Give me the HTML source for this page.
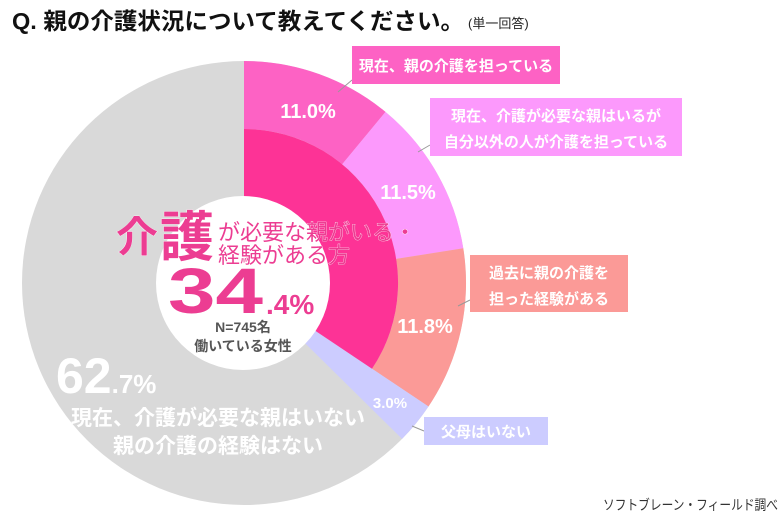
<!DOCTYPE html>
<html><head><meta charset="utf-8"><style>
html,body{margin:0;padding:0;background:#fff;}
body{width:780px;height:516px;overflow:hidden;position:relative;font-family:"Liberation Sans","Noto Sans CJK JP",sans-serif;}
</style></head><body>
<svg width="780" height="516" viewBox="0 0 780 516" xmlns="http://www.w3.org/2000/svg" style="position:absolute;left:0;top:0" font-family="Liberation Sans, Noto Sans CJK JP, sans-serif">
<text x="12" y="29" font-size="23" font-weight="bold" fill="#111" textLength="452" lengthAdjust="spacingAndGlyphs">Q.  親の介護状況について教えてください。</text>
<text x="468" y="28" font-size="13" fill="#222">(単一回答)</text>

<circle cx="244" cy="283" r="222" fill="#d9d9d9"/>
<path d="M244,61 A222,222 0 0 1 385.5,111.9 L342.2,164.3 A154,154 0 0 0 244,129 Z" fill="#fd62c4"/>
<path d="M385.5,111.9 A222,222 0 0 1 463.3,248.3 L396.1,258.9 A154,154 0 0 0 342.2,164.3 Z" fill="#fc99fc"/>
<path d="M463.3,248.3 A222,222 0 0 1 428.5,406.5 L372.0,368.7 A154,154 0 0 0 396.1,258.9 Z" fill="#fb9a97"/>
<path d="M244,283 L428.5,406.5 A222,222 0 0 1 402.1,438.9 Z" fill="#ccccff"/>
<path d="M244,283 L244,129 A154,154 0 0 1 372.0,368.7 Z" fill="#fd3396"/>
<circle cx="243" cy="283" r="87" fill="#fff"/>

<g stroke="#999" stroke-width="1" fill="none">
<line x1="352" y1="80" x2="338" y2="92"/>
<line x1="430" y1="145" x2="418" y2="152"/>
<line x1="470" y1="300" x2="458" y2="306"/>
<line x1="424" y1="431" x2="412" y2="426"/>
</g>

<rect x="352" y="46" width="208" height="38" fill="#fd62c4"/>
<text x="456" y="71" font-size="15" font-weight="bold" fill="#fff" text-anchor="middle">現在、親の介護を担っている</text>
<rect x="430" y="98" width="252" height="58" fill="#fc99fc"/>
<text x="556" y="121" font-size="15" font-weight="bold" fill="#fff" text-anchor="middle">現在、介護が必要な親はいるが</text>
<text x="556" y="147" font-size="15" font-weight="bold" fill="#fff" text-anchor="middle">自分以外の人が介護を担っている</text>
<rect x="470" y="255" width="158" height="57" fill="#fb9a97"/>
<text x="549" y="278" font-size="15" font-weight="bold" fill="#fff" text-anchor="middle">過去に親の介護を</text>
<text x="549" y="304" font-size="15" font-weight="bold" fill="#fff" text-anchor="middle">担った経験がある</text>
<rect x="424" y="417" width="124" height="28" fill="#ccccff"/>
<text x="486" y="437" font-size="15" font-weight="bold" fill="#fff" text-anchor="middle">父母はいない</text>

<g font-weight="bold" fill="#fff" text-anchor="middle">
<text x="308" y="118" font-size="20">11.0%</text>
<text x="408" y="199" font-size="20">11.5%</text>
<text x="425" y="333" font-size="20">11.8%</text>
<text x="390" y="408" font-size="15">3.0%</text>
</g>

<text x="56" y="393" font-size="50" font-weight="bold" fill="#fff">62<tspan font-size="26">.7%</tspan></text>
<text x="218" y="425" font-size="21" font-weight="bold" fill="#fff" text-anchor="middle">現在、介護が必要な親はいない</text>
<text x="218" y="453" font-size="21" font-weight="bold" fill="#fff" text-anchor="middle">親の介護の経験はない</text>

<g fill="#ec3d92" stroke="#fff" stroke-width="0.6" paint-order="stroke">
<text x="116" y="252" font-size="42" font-weight="bold">介</text>
<text x="160" y="256" font-size="54" font-weight="bold">護</text>
<text x="218" y="240" font-size="22">が必要な親がいる・</text>
<text x="218" y="263" font-size="22">経験がある方</text>
</g>
<text x="168" y="313" font-size="64" font-weight="bold" fill="#ec3d92" textLength="95" lengthAdjust="spacingAndGlyphs">34</text>
<text x="266" y="314" font-size="28" font-weight="bold" fill="#ec3d92">.4%</text>
<text x="243" y="332" font-size="14" fill="#555" text-anchor="middle" font-weight="bold">N=745名</text>
<text x="243" y="351" font-size="14" fill="#555" text-anchor="middle" font-weight="bold">働いている女性</text>

<text x="603" y="510" font-size="14" fill="#333" textLength="175" lengthAdjust="spacingAndGlyphs">ソフトブレーン・フィールド調べ</text>
</svg>
</body></html>
